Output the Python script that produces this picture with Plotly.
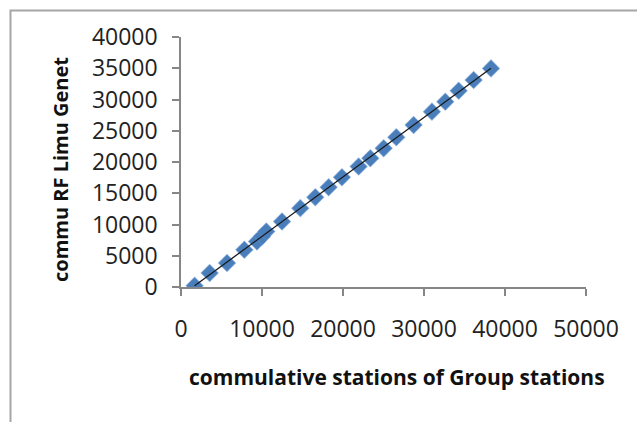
import numpy as np
import plotly.graph_objects as go

# Data
x_stations = [1680, 3540, 5680, 7820, 9380, 10000, 10530, 12470, 14730, 16580, 18230,
              19870, 21930, 23370, 25020, 26580, 28720, 30980, 32630, 34280, 36130, 38270]
y_genet = [210, 2240, 3830, 5960, 7290, 8090, 8890, 10480, 12620, 14370, 15970,
           17570, 19270, 20600, 22200, 23960, 25930, 28060, 29650, 31410, 33120, 34980]

x_ticks = [0, 10000, 20000, 30000, 40000, 50000]
y_ticks = [0, 5000, 10000, 15000, 20000, 25000, 30000, 35000, 40000]

x_title = "commulative stations of Group stations"
y_title = "commu RF Limu Genet"

# Linear trendline
slope, intercept = np.polyfit(x_stations, y_genet, 1)
tx = np.array([min(x_stations), max(x_stations)])
ty = slope * tx + intercept

W, H = 637, 422
ml, mr, mt, mb = 181, 51, 37, 135
pw, ph = W - ml - mr, H - mt - mb

def px2paper_x(px):
    return (px - ml) / pw

def px2paper_y(py):
    return (H - mb - py) / ph

FONT = "Open Sans"

fig = go.Figure()
fig.add_trace(go.Scatter(
    x=x_stations, y=y_genet, mode="markers",
    marker=dict(symbol="diamond", size=13, color="#4A7EBB",
                line=dict(width=1.2, color="rgba(90,140,200,0.55)")),
    showlegend=False, hoverinfo="skip"))
fig.add_trace(go.Scatter(
    x=tx, y=ty, mode="lines",
    line=dict(color="#1a1a1a", width=1.3),
    showlegend=False, hoverinfo="skip"))

axis_common = dict(
    showgrid=False, zeroline=False, showline=True, linecolor="#868686", linewidth=1.5,
    ticks="outside", ticklen=7, tickcolor="#868686", tickwidth=1.5,
    tickfont=dict(family=FONT, size=23, color="#222222"),
)

fig.update_xaxes(range=[0, 50000], tickvals=x_ticks, ticktext=[str(v) for v in x_ticks],
                 ticklabelstandoff=14, **axis_common)
fig.update_yaxes(range=[0, 40000], tickvals=y_ticks, ticktext=[str(v) for v in y_ticks],
                 ticklabelstandoff=10, **axis_common)

fig.add_annotation(text=f"<b>{x_title}</b>", xref="paper", yref="paper",
                   x=px2paper_x(397), y=px2paper_y(377), showarrow=False,
                   xanchor="center", yanchor="middle",
                   font=dict(family=FONT, size=21, color="#111111"))
fig.add_annotation(text=f"<b>{y_title}</b>", xref="paper", yref="paper",
                   x=px2paper_x(60), y=px2paper_y(170), showarrow=False, textangle=-90,
                   xanchor="center", yanchor="middle",
                   font=dict(family=FONT, size=20, color="#111111"))

# Outer chart frame (only top and left edges visible)
fig.add_shape(type="rect", xref="paper", yref="paper",
              x0=px2paper_x(10.5), y0=px2paper_y(440), x1=px2paper_x(660), y1=px2paper_y(10.5),
              line=dict(color="#A6A6A6", width=2), fillcolor="rgba(0,0,0,0)", layer="below")

fig.update_layout(
    width=W, height=H, autosize=False,
    margin=dict(l=ml, r=mr, t=mt, b=mb),
    plot_bgcolor="white", paper_bgcolor="white",
)

fig.write_html("out.html")
